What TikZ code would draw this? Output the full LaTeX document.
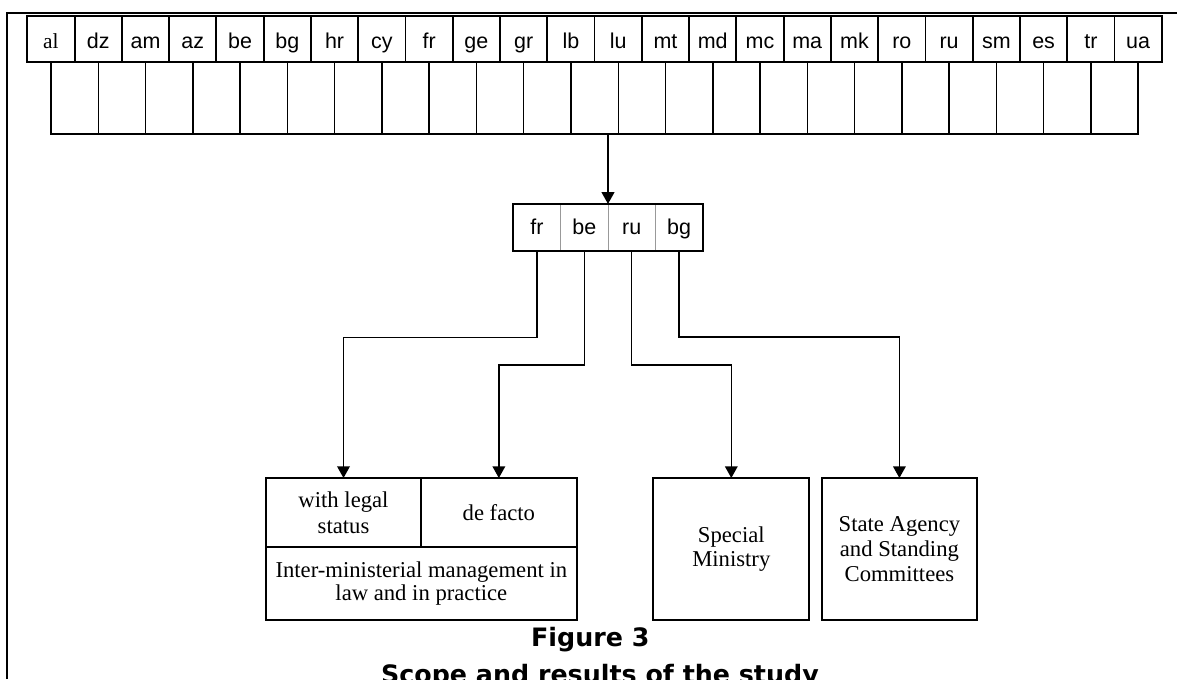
\documentclass[tikz,border=0pt]{standalone}
\usepackage{fontspec}
\setmainfont{Liberation Serif}
\newfontfamily\arialf{Liberation Sans}
\newfontfamily\capf{DejaVu Sans}
\usetikzlibrary{arrows.meta}
\begin{document}
\begin{tikzpicture}[x=0.75pt,y=-0.75pt,
  topcell/.style={draw,line width=1.4pt,inner sep=0pt,outer sep=0pt,
    minimum width=35.45pt,minimum height=34.5pt,
    font=\arialf\fontsize{16.1}{18}\selectfont,text height=13.9pt,text depth=0pt},
  lowcell/.style={draw,line width=1.1pt,inner sep=0pt,outer sep=0pt,
    minimum width=35.45pt,minimum height=54pt},
  midcell/.style={draw=gray!80,line width=0.6pt,inner sep=0pt,outer sep=0pt,
    minimum width=35.5pt,minimum height=35pt,
    font=\arialf\fontsize{16.1}{18}\selectfont,text height=11.5pt,text depth=0pt},
  resbox/.style={draw,line width=1.4pt,inner sep=0pt,outer sep=0pt,align=center},
  conn/.style={line width=1.1pt,-{Triangle[width=9.5pt,length=8.8pt]}},
  link/.style={line width=1.1pt},
  capt/.style={font=\capf\bfseries\fontsize{19}{22}\selectfont,anchor=base,inner sep=0pt}
]
\useasboundingbox (0,0) rectangle (1177,679);
% frame
\coordinate (fb) at (7,679);
\coordinate (fc) at (7,13);
\coordinate (fr) at (1177,13);
\draw[line width=1.3pt] (fb) -- (fc) -- (fr);
% top row
\node[topcell,font=\fontsize{16.1}{18}\selectfont] (t0) at (50.935,39) {al};
\foreach \lab [count=\i from 1] in {dz,am,az,be,bg,hr,cy,fr,ge,gr,lb,lu,mt,md,mc,ma,mk,ro,ru,sm,es,tr,ua}
  \node[topcell] (t\i) at ({50.935+47.27*\i},39) {\lab};
% second row
\foreach \j in {0,...,22}
  \node[lowcell] (r\j) at ({74.635+47.27*\j},98) {};
% middle selection
\foreach \lab [count=\k from 0] in {fr,be,ru,bg}
  \node[midcell] (m\k) at ({536.975+47.35*\k},227.3) {\lab};
\draw[line width=1.5pt] (m0.north west) rectangle (m3.south east);
\draw[conn] (m1.north east |- r11.south) -- (m1.north east);
% result boxes
\node[resbox,minimum width=116.25pt,minimum height=51.5pt,
  font=\fontsize{17}{19.5}\selectfont] (leg) at (343.5,512.35) {with legal\\status};
\node[resbox,minimum width=116.8pt,minimum height=51.5pt,
  font=\fontsize{17}{19.5}\selectfont] (fac) at (498.85,512.35) {de facto};
\node[resbox,minimum width=233pt,minimum height=55pt,
  font=\fontsize{17}{17.5}\selectfont] (inter) at (421.35,583.35)
  {Inter-ministerial management in\\law and in practice};
\node[resbox,minimum width=117pt,minimum height=106.5pt,
  font=\fontsize{17}{17.5}\selectfont] (spec) at (731.3,549) {Special\\Ministry};
\node[resbox,minimum width=116.5pt,minimum height=106.5pt,
  font=\fontsize{17}{19}\selectfont] (state) at (899.4,549) {State Agency\\and Standing\\Committees};
% connectors
\draw[conn] (m0.south) -- ++(0,86.6) -| (leg.north);
\draw[conn] (m1.south) -- ++(0,114.3) -| (fac.north);
\draw[conn] (m2.south) -- ++(0,114.3) -| (spec.north);
\draw[conn] (m3.south) -- ++(0,86.3) -| (state.north);
% caption
\node[capt] (cap1) at (590.3,646.7) {Figure 3};
\node[capt] (cap2) at (600,683.4) {Scope and results of the study};
\end{tikzpicture}
\end{document}
